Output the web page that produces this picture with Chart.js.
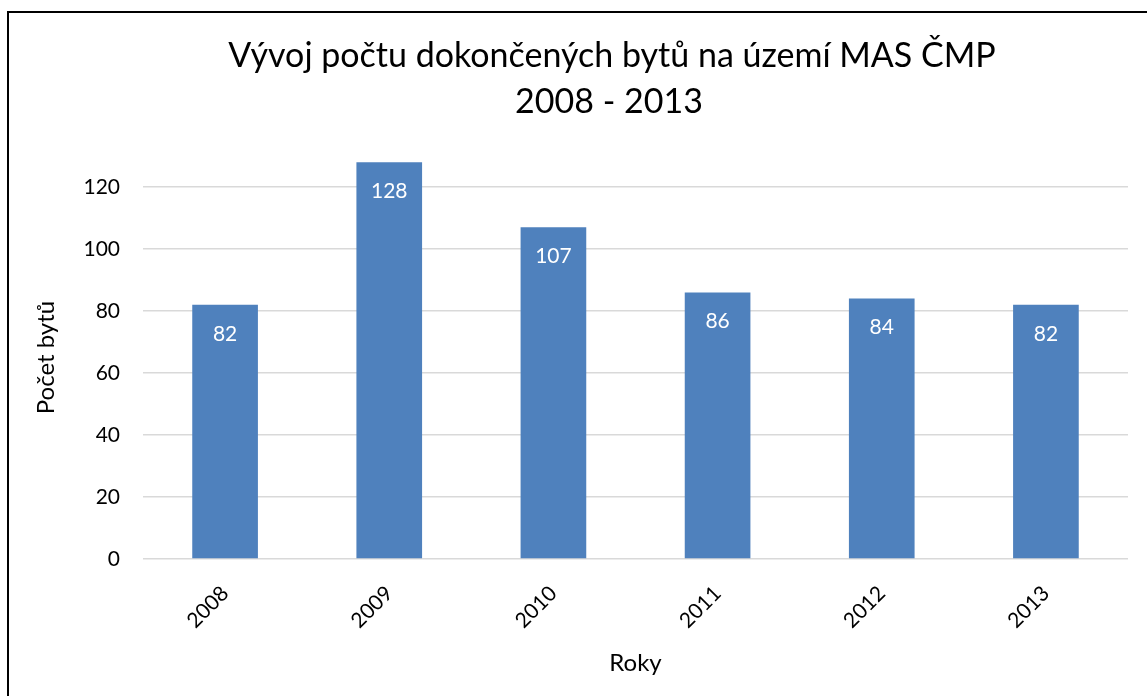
<!DOCTYPE html>
<html>
<head>
<meta charset="utf-8">
<script src="https://cdn.jsdelivr.net/npm/chart.js@4.4.0/dist/chart.umd.min.js"></script>
<style>
  html, body { margin: 0; padding: 0; background: #fff; }
  #wrap { position: relative; width: 1147px; height: 696px; overflow: hidden; }
  #frame { position: absolute; left: 7px; top: 11px; width: 1200px; height: 800px; border: 2px solid #000; box-sizing: border-box; }
  canvas { position: absolute; left: 0; top: 0; }
</style>
</head>
<body>
<div id="wrap">
  <canvas id="c" width="1147" height="696"></canvas>
  <div id="frame"></div>
</div>
<script>
const categories = ['2008', '2009', '2010', '2011', '2012', '2013'];
const values = [82, 128, 107, 86, 84, 82];
const yTicks = [0, 20, 40, 60, 80, 100, 120];
const titleLines = ['Vývoj počtu dokončených bytů na území MAS ČMP', '2008 - 2013'];
const xTitle = 'Roky';
const yTitle = 'Počet bytů';

const FONT = "Lato, 'Open Sans', sans-serif";

const labelPlugin = {
  id: 'barLabels',
  afterDatasetsDraw(chart) {
    const ctx = chart.ctx;
    const meta = chart.getDatasetMeta(0);
    ctx.save();
    ctx.fillStyle = '#ffffff';
    ctx.font = '21px ' + FONT;
    ctx.textAlign = 'center';
    ctx.textBaseline = 'middle';
    meta.data.forEach((bar, i) => {
      ctx.fillText(String(values[i]), bar.x, bar.y + 29);
    });
    ctx.restore();
  }
};

const titlePlugin = {
  id: 'titleDraw',
  afterDraw(chart) {
    const ctx = chart.ctx;
    ctx.save();
    ctx.fillStyle = '#000';
    ctx.font = '34px ' + FONT;
    ctx.textAlign = 'center';
    ctx.textBaseline = 'alphabetic';
    ctx.fillText(titleLines[0], 612, 67);
    ctx.fillText(titleLines[1], 609, 113);
    ctx.restore();
  }
};

new Chart(document.getElementById('c'), {
  type: 'bar',
  data: {
    labels: categories,
    datasets: [{
      data: values,
      backgroundColor: '#4f81bd',
      borderWidth: 0,
      barPercentage: 0.4,
      categoryPercentage: 1.0
    }]
  },
  options: {
    responsive: false,
    animation: false,
    devicePixelRatio: 1,
    layout: { padding: { left: 0, right: 19, top: 156, bottom: 0 } },
    plugins: {
      legend: { display: false },
      tooltip: { enabled: false },
      title: { display: false }
    },
    scales: {
      x: {
        grid: { display: false, drawTicks: false },
        border: { display: false },
        ticks: {
          color: '#000',
          font: { family: FONT, size: 21 },
          minRotation: 45,
          maxRotation: 45,
          padding: 22
        },
        title: {
          display: true,
          text: xTitle,
          color: '#000',
          font: { family: FONT, size: 24 },
          padding: { top: 8, bottom: 18 }
        },
        afterFit(s) { s.height = 696 - 559; }
      },
      y: {
        min: 0,
        max: 130,
        afterBuildTicks(s) { s.ticks = yTicks.map(v => ({ value: v })); },
        grid: { color: '#d9d9d9', lineWidth: 1.5, drawTicks: false },
        border: { display: false },
        ticks: {
          color: '#000',
          font: { family: FONT, size: 21 },
          padding: 23
        },
        title: {
          display: true,
          text: yTitle,
          color: '#000',
          font: { family: FONT, size: 24 },
          padding: { top: 32, bottom: 10 }
        },
        afterFit(s) { s.width = 143; }
      }
    }
  },
  plugins: [labelPlugin, titlePlugin]
});
</script>
</body>
</html>
